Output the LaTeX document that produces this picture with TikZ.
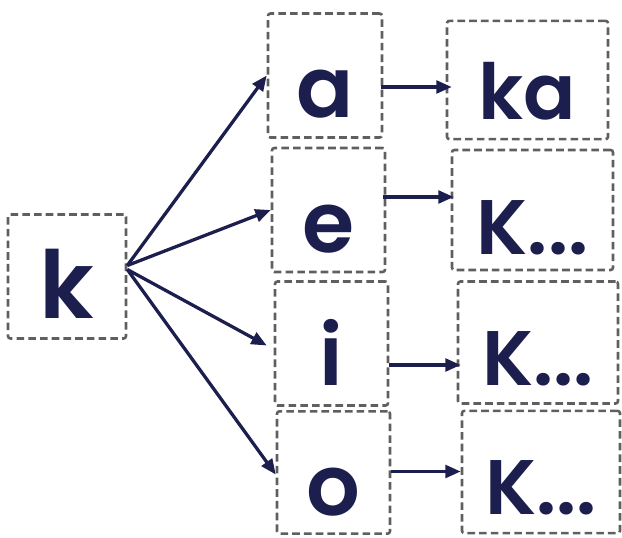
\documentclass[tikz,border=0pt]{standalone}
\usepackage{fontspec}
\setmainfont{Poppins}[BoldFont={Poppins SemiBold}]
\usetikzlibrary{arrows.meta,calc}
\definecolor{ink}{RGB}{28,30,78}
\definecolor{boxgray}{RGB}{95,95,95}
\tikzset{
  letter/.style={draw=boxgray,line width=2.2pt,dash pattern=on 6.5pt off 3.5pt,rounded corners=2pt,
    text=ink,font=\fontsize{72}{74}\selectfont\bfseries,inner sep=0pt,
    text height=3.12cm,text depth=0.6cm},
  syllable/.style={letter,font=\fontsize{66}{68}\selectfont\bfseries},
  link/.style={->,ink,line width=2.8pt}
}
\begin{document}
\begin{tikzpicture}[>={Triangle[length=4.6mm,width=3.8mm]},x=0.03cm,y=-0.03cm, line join=round]
\useasboundingbox (0,0) rectangle (622,537);
% first letter
\node[letter,font=\fontsize{80}{82}\selectfont\bfseries,minimum width=118*0.03cm] (k) at (67,276.5) {k};
% vowels
\node[letter,minimum width=114*0.03cm] (a) at (325,75.5) {a};
\node[letter,minimum width=113*0.03cm] (e) at (328.5,210) {e};
\node[letter,minimum width=113*0.03cm] (i) at (331.5,343.5) {i};
\node[letter,minimum width=113*0.03cm,text depth=0.55cm] (o) at (333.5,472.5) {o};
% syllables
\node[syllable,minimum width=161*0.03cm,text height=2.95cm] (ka) at (527.5,80) {ka};
\node[syllable,minimum width=161*0.03cm,text depth=0.48cm] (ke) at (532.5,210) {K...};
\node[syllable,minimum width=160*0.03cm,text depth=0.54cm] (ki) at (538,342.5) {K...};
\node[syllable,minimum width=158*0.03cm,text depth=0.55cm] (ko) at (541,472) {K...};

\draw[link] ($(k.east)+(0,-11)$) -- (a.west);
\draw[link] ($(k.east)+(0,-11)$) -- (e.west);
\draw[link] ($(k.east)+(0,-7)$) -- ($(i.west)+(-7,2)$);
\draw[link] ($(k.east)+(0,-7)$) -- ($(o.west)+(0,2)$);

\draw[link] ($(a.east)+(-2,11.5)$) -- ($(ka.west)+(6,7)$);
\draw[link] ($(e.east)+(-3,-13)$) -- ($(ke.west)+(3,-13)$);
\draw[link] ($(i.east)+(0,21.5)$) -- ($(ki.west)+(4,22.5)$);
\draw[link] ($(o.east)+(0,-1)$) -- ($(ko.west)+(0,-0.5)$);
\end{tikzpicture}
\end{document}
